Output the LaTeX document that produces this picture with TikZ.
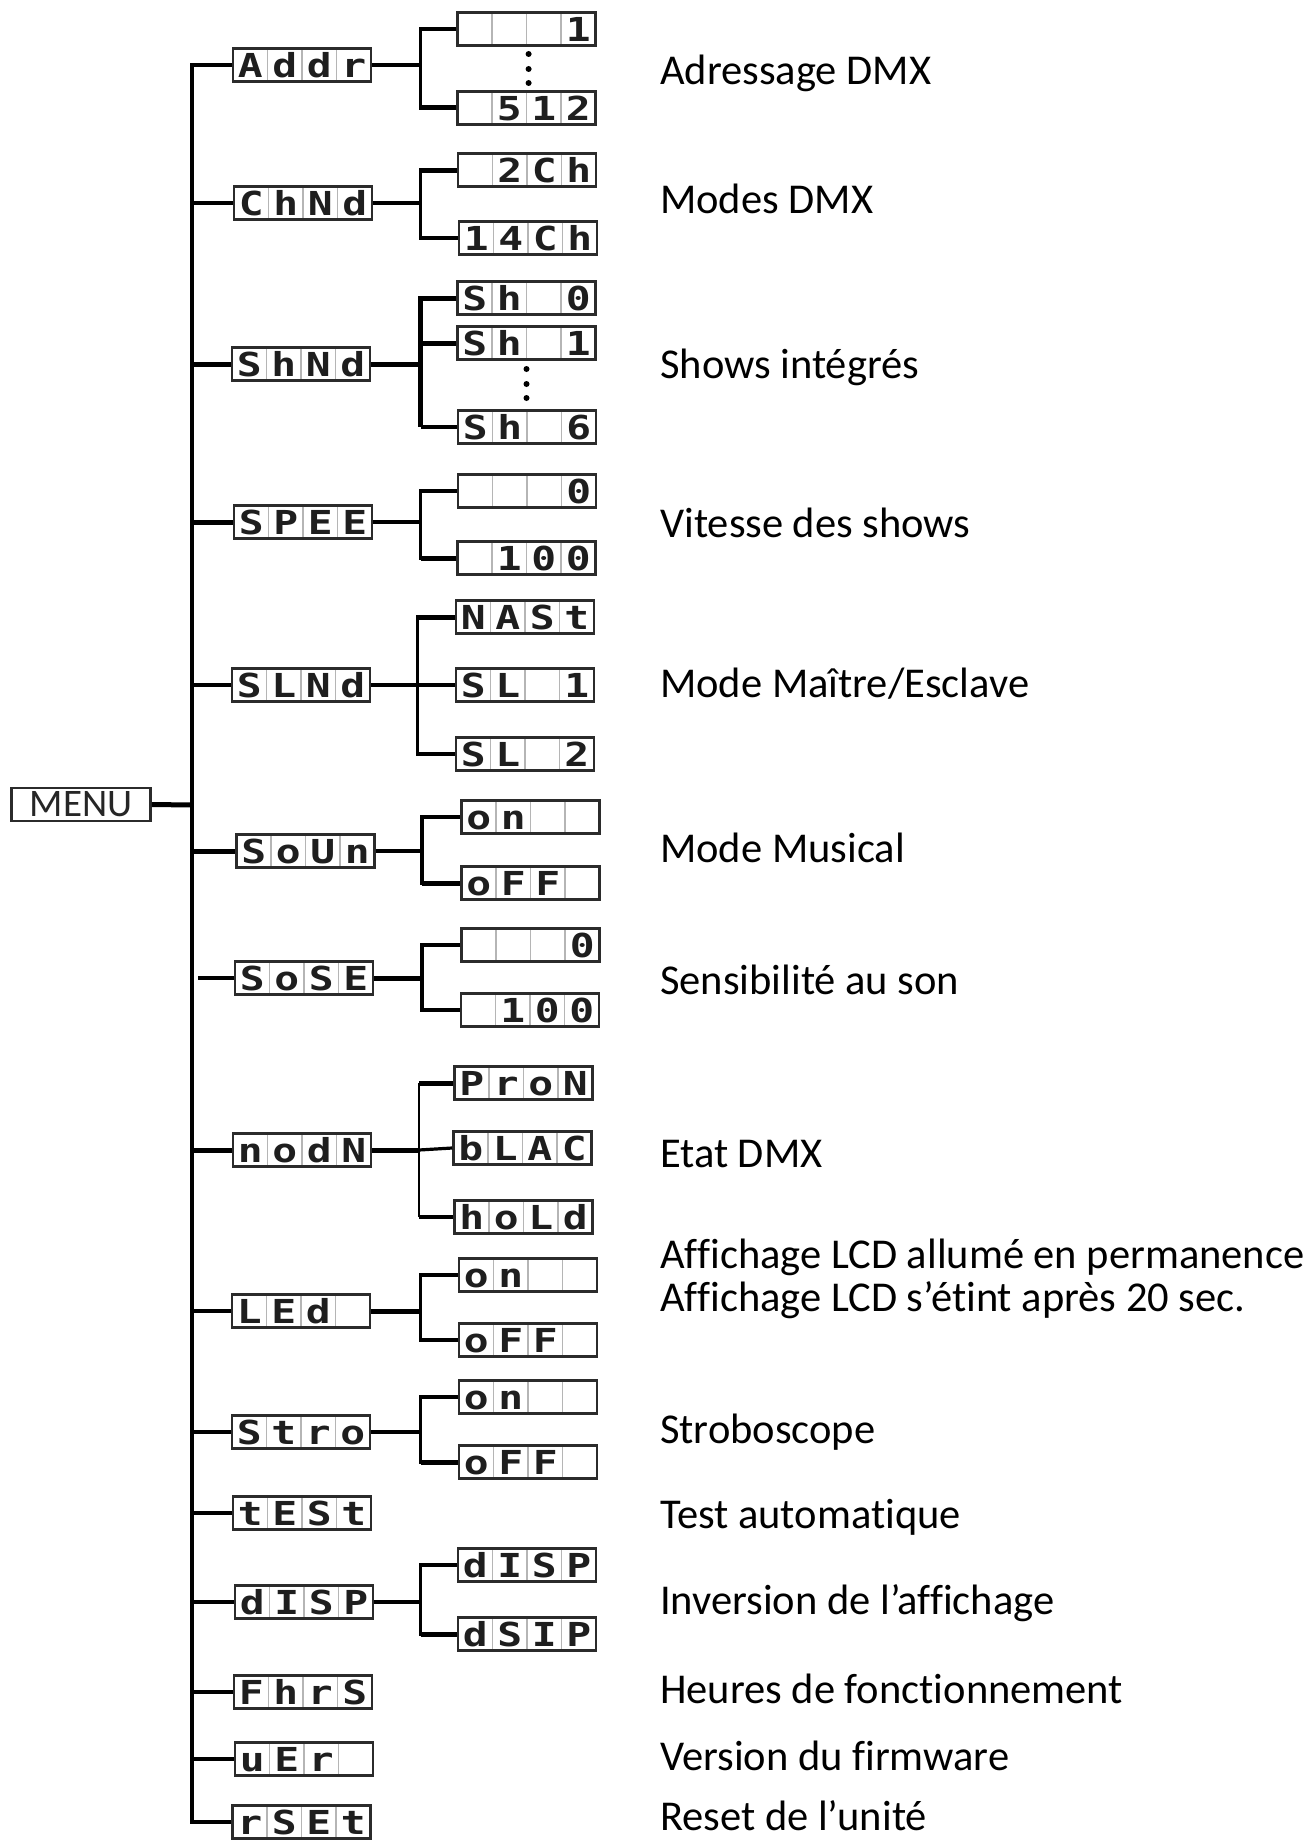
\documentclass[tikz,border=0pt]{standalone}
\usepackage{fontspec}
\newfontfamily\lblfont[Ligatures={NoCommon,NoDiscretionary,NoRare}]{Carlito}
\newfontfamily\lcdfam[FakeStretch=1.25]{DejaVu Sans Mono}
\definecolor{lcdborder}{HTML}{2B2B2B}
\definecolor{lcdsep}{HTML}{B5B5B5}
\definecolor{lcdink}{HTML}{1E1E1E}
\newcommand{\lcdcell}[1]{\makebox[34.5pt]{#1}}
\newcommand{\lcd}[4]{\lcdcell{#1}\lcdcell{#2}\lcdcell{#3}\lcdcell{#4}}
\tikzset{
  lcdbox/.style={draw=lcdborder, line width=2.6pt, fill=white, minimum width=138pt,
    minimum height=33pt, inner sep=0pt, text height=25.5pt, text depth=0pt, text=lcdink,
    font=\lcdfam\bfseries\fontsize{33}{33}\selectfont,
    path picture={\foreach \k in {1,2,3}{\draw[lcdsep, line width=1.8pt]
      ([xshift=\k*34.5pt]path picture bounding box.north west) --
      ([xshift=\k*34.5pt]path picture bounding box.south west);}}},
  menubox/.style={draw=lcdborder, line width=2.6pt, minimum width=139pt, minimum height=33pt,
    inner sep=0pt, text=black!85, font=\lblfont\fontsize{39}{39}\selectfont},
  conn/.style={line width=3.2pt, line join=miter},
  thk/.style={line width=5pt},
  lbl/.style={anchor=base west, inner sep=0pt, font=\lblfont\fontsize{42.5}{50}\selectfont},
  vdot/.style={fill=black}
}
\begin{document}
\begin{tikzpicture}[x=1pt,y=-1pt]
\useasboundingbox[fill=white] (0,0) rectangle (1309,1841);

% root
\node[menubox] (menu) at (81,804.5) {MENU};
\coordinate (T) at (192,805);

% level 1
\node[lcdbox] (addr) at (302,65)   {\lcd{A}{d}{d}{r}};
\node[lcdbox] (chnd) at (303,203)  {\lcd{C}{h}{N}{d}};
\node[lcdbox] (shnd) at (301,364)  {\lcd{S}{h}{N}{d}};
\node[lcdbox] (spee) at (303,522)  {\lcd{S}{P}{E}{E}};
\node[lcdbox] (slnd) at (301,685)  {\lcd{S}{L}{N}{d}};
\node[lcdbox] (soun) at (305.5,851){\lcd{S}{o}{U}{n}};
\node[lcdbox] (sose) at (304,978)  {\lcd{S}{o}{S}{E}};
\node[lcdbox] (nodn) at (302,1150) {\lcd{n}{o}{d}{N}};
\node[lcdbox] (led)  at (301,1311) {\lcd{L}{E}{d}{}};
\node[lcdbox] (stro) at (301,1432) {\lcd{S}{t}{r}{o}};
\node[lcdbox] (test) at (302,1513) {\lcd{t}{E}{S}{t}};
\node[lcdbox] (disp) at (304,1602) {\lcd{d}{I}{S}{P}};
\node[lcdbox] (fhrs) at (303,1692) {\lcd{F}{h}{r}{S}};
\node[lcdbox] (uer)  at (304,1759) {\lcd{u}{E}{r}{}};
\node[lcdbox] (rset) at (301.5,1822) {\lcd{r}{S}{E}{t}};

% level 2
\node[lcdbox] (a1) at (526.5,29)  {\lcd{}{}{}{1}};
\node[lcdbox] (a2) at (526.5,108) {\lcd{}{5}{1}{2}};
\node[lcdbox] (c1) at (527,170)   {\lcd{}{2}{C}{h}};
\node[lcdbox] (c2) at (528,238)   {\lcd{1}{4}{C}{h}};
\node[lcdbox] (s0) at (526.5,298) {\lcd{S}{h}{}{0}};
\node[lcdbox] (s1) at (526.5,343) {\lcd{S}{h}{}{1}};
\node[lcdbox] (s6) at (527,427)   {\lcd{S}{h}{}{6}};
\node[lcdbox] (p1) at (527,491)   {\lcd{}{}{}{0}};
\node[lcdbox] (p2) at (526.5,558) {\lcd{}{1}{0}{0}};
\node[lcdbox] (m1) at (525,617)   {\lcd{N}{A}{S}{t}};
\node[lcdbox] (m2) at (525,685)   {\lcd{S}{L}{}{1}};
\node[lcdbox] (m3) at (525,754)   {\lcd{S}{L}{}{2}};
\node[lcdbox] (o1) at (530.5,817) {\lcd{o}{n}{}{}};
\node[lcdbox] (o2) at (530.5,883) {\lcd{o}{F}{F}{}};
\node[lcdbox] (e1) at (530.5,945) {\lcd{}{}{}{0}};
\node[lcdbox] (e2) at (530,1010)  {\lcd{}{1}{0}{0}};
\node[lcdbox] (n1) at (523.5,1083){\lcd{P}{r}{o}{N}};
\node[lcdbox] (n2) at (522.5,1148){\lcd{b}{L}{A}{C}};
\node[lcdbox] (n3) at (523.5,1217){\lcd{h}{o}{L}{d}};
\node[lcdbox] (l1) at (528,1275)  {\lcd{o}{n}{}{}};
\node[lcdbox] (l2) at (528,1340)  {\lcd{o}{F}{F}{}};
\node[lcdbox] (t1) at (528,1397)  {\lcd{o}{n}{}{}};
\node[lcdbox] (t2) at (528,1462)  {\lcd{o}{F}{F}{}};
\node[lcdbox] (d1) at (527,1565)  {\lcd{d}{I}{S}{P}};
\node[lcdbox] (d2) at (527,1634)  {\lcd{d}{S}{I}{P}};

% ellipsis dots
\foreach \yy in {54,69,83} \fill[vdot] (528.6,\yy) circle (3);
\foreach \yy in {369,384,398} \fill[vdot] (526.5,\yy) circle (3);

% trunk
\draw[thk] (menu.east) -- (T);
\foreach \n in {addr,chnd,shnd,spee,slnd,soun,nodn,led,stro,test,disp,fhrs,uer,rset}
  \draw[conn] (T) |- (\n.west);
\draw[conn] (T) -- (T |- sose.west);
\path (T |- sose.west) ++(6,0) coordinate (sose-s);
\draw[conn] (sose-s) -- (sose.west);
\foreach \n in {shnd,spee,soun,nodn}
  \draw[thk] (T |- \n.west) -- (\n.west);

% branch points
\coordinate (addr-b) at (420.5,65);
\coordinate (chnd-b) at (420.5,203);
\coordinate (shnd-b) at (420.5,364);
\coordinate (spee-b) at (420.5,522);
\coordinate (slnd-b) at (417.5,685);
\coordinate (soun-b) at (422,851);
\coordinate (sose-b) at (422,978);
\coordinate (nodn-b) at (419,1150);
\coordinate (led-b)  at (420.5,1311);
\coordinate (stro-b) at (420.5,1432);
\coordinate (disp-b) at (420.5,1602);

% Addr
\draw[conn] (addr.east) -- (addr-b);
\draw[conn] (addr-b) |- (a1.west);
\draw[conn] (addr-b) |- (a2.west);
\draw[thk] (addr-b |- a2.west) -- (a2.west);
% ChNd
\draw[conn] (chnd.east) -- (chnd-b);
\draw[conn] (chnd-b) |- (c1.west);
\draw[conn] (chnd-b) |- (c2.west);
\draw[thk] (chnd-b |- c1.west) -- (c1.west);
% ShNd
\draw[thk] (shnd.east) -- (shnd-b);
\draw[thk, line join=miter] (shnd-b) |- (s0.west);
\draw[thk] (shnd-b |- s1.west) -- (s1.west);
\draw[thk, line join=miter] (shnd-b) -- (shnd-b |- s6.west);
\draw[conn] (shnd-b |- s6.west) -- (s6.west);
% SPEE
\draw[conn] (spee.east) -- (spee-b);
\draw[conn] (spee-b) |- (p1.west);
\draw[conn] (spee-b) |- (p2.west);
\draw[thk] (spee-b |- p2.west) -- (p2.west);
% SLNd
\draw[conn] (slnd.east) -- (slnd-b);
\draw[conn] (slnd-b) |- (m1.west);
\draw[conn] (slnd-b) -- (m2.west);
\draw[conn] (slnd-b) |- (m3.west);
\draw[thk] (slnd-b |- m1.west) -- (m1.west);
% SoUn
\draw[conn] (soun.east) -- (soun-b);
\draw[conn] (soun-b) |- (o1.west);
\draw[conn] (soun-b) |- (o2.west);
\draw[thk] (soun-b |- o2.west) -- (o2.west);
% SoSE
\draw[thk] (sose.east) -- (sose-b);
\draw[conn] (sose-b) |- (e1.west);
\draw[conn] (sose-b) |- (e2.west);
% nodN
\draw[thk] (nodn.east) -- (nodn-b);
\draw[conn] (nodn-b) -- (n2.west);
\draw[line width=2.4pt] (nodn-b |- n1.west) -- (nodn-b |- n3.west);
\draw[thk] (nodn-b |- n1.west) -- (n1.west);
\draw[conn] (nodn-b |- n3.west) -- (n3.west);
% LEd
\draw[thk] (led.east) -- (led-b);
\draw[conn] (led-b) |- (l1.west);
\draw[conn] (led-b) |- (l2.west);
% Stro
\draw[conn] (stro.east) -- (stro-b);
\draw[conn] (stro-b) |- (t1.west);
\draw[conn] (stro-b) |- (t2.west);
\draw[thk] (stro-b |- t2.west) -- (t2.west);
% dISP
\draw[conn] (disp.east) -- (disp-b);
\draw[conn] (disp-b) |- (d1.west);
\draw[conn] (disp-b) |- (d2.west);
\draw[thk] (disp-b |- d2.west) -- (d2.west);

% labels
\node[lbl] (L1)  at (660,85)   {Adressage DMX};
\node[lbl] (L2)  at (660,213)  {Modes DMX};
\node[lbl] (L3)  at (660,378)  {Shows intégrés};
\node[lbl] (L4)  at (660,537)  {Vitesse des shows};
\node[lbl] (L5)  at (660,697)  {Mode Maître/Esclave};
\node[lbl] (L6)  at (660,862)  {Mode Musical};
\node[lbl] (L7)  at (660,994)  {Sensibilité au son};
\node[lbl] (L8)  at (660,1167) {Etat DMX};
\node[lbl] (L9)  at (660,1268) {Affichage LCD allumé en permanence};
\node[lbl] (L10) at (660,1311) {Affichage LCD s’étint après 20 sec.};
\node[lbl] (L11) at (660,1443) {Stroboscope};
\node[lbl] (L12) at (660,1528) {Test automatique};
\node[lbl] (L13) at (660,1614) {Inversion de l’affichage};
\node[lbl] (L14) at (660,1703) {Heures de fonctionnement};
\node[lbl] (L15) at (660,1770) {Version du firmware};
\node[lbl] (L16) at (660,1830) {Reset de l’unité};
\end{tikzpicture}
\end{document}
